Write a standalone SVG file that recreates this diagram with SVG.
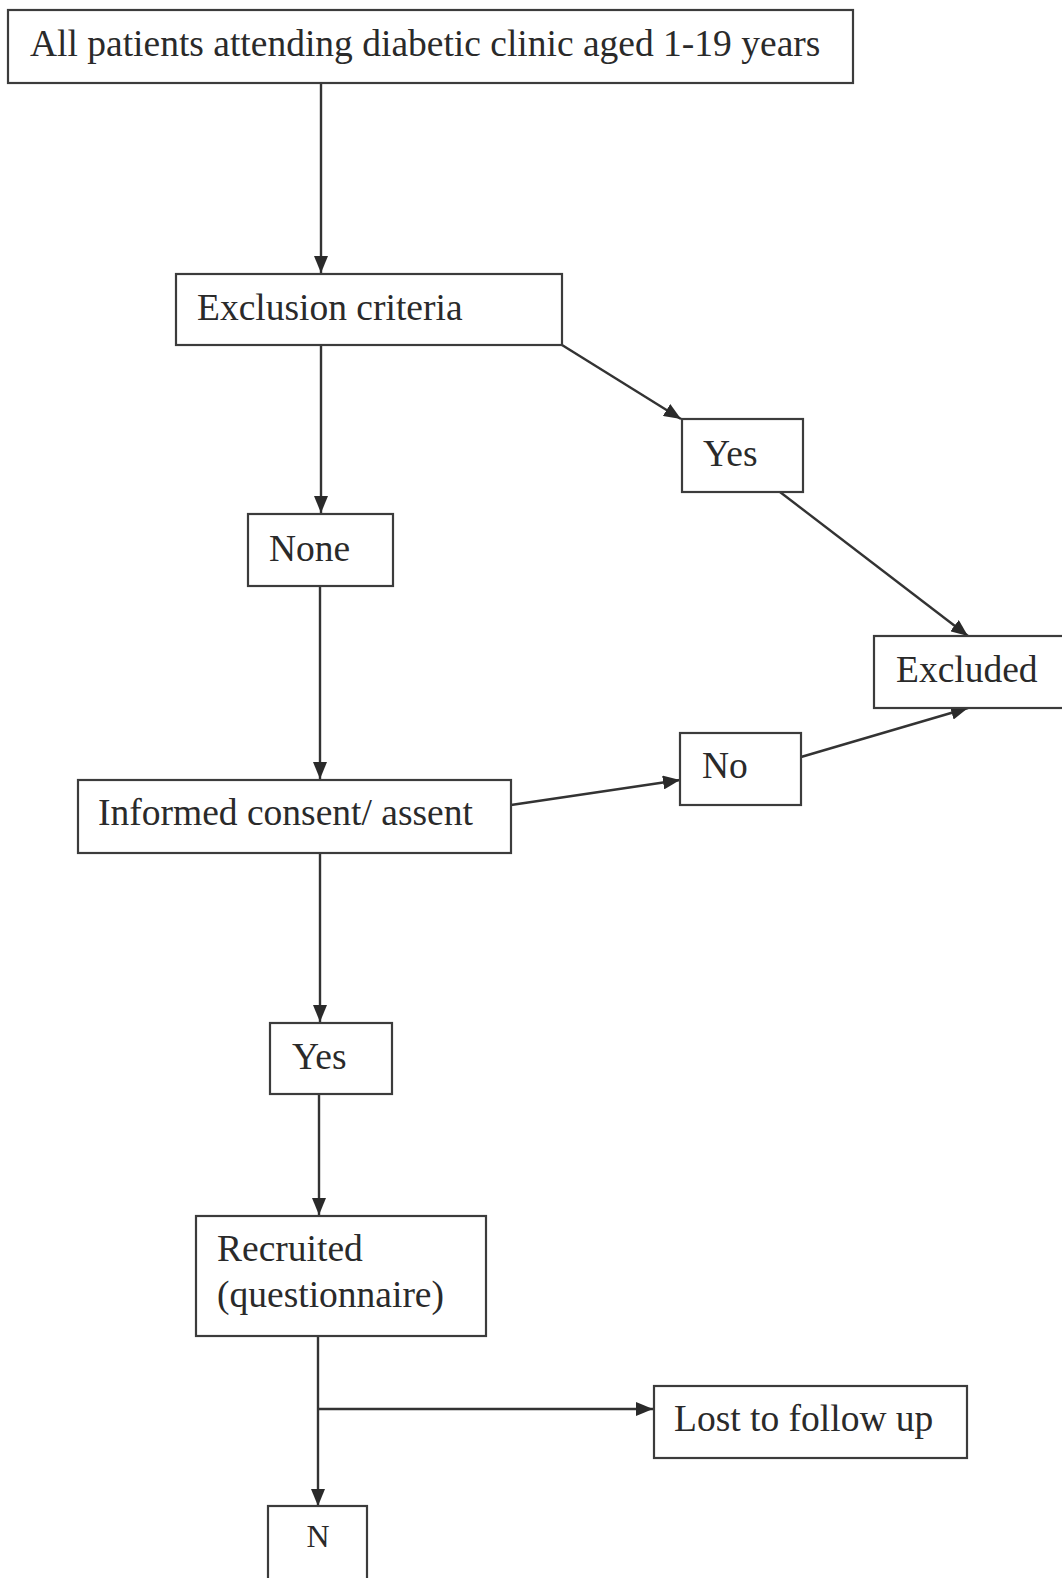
<svg xmlns="http://www.w3.org/2000/svg" width="1062" height="1578" viewBox="0 0 1062 1578">
<style>
.box{fill:#fff;stroke:#3c3c3c;stroke-width:2.2}
.t{font-family:"Liberation Serif","Times New Roman",serif;font-size:37.5px;fill:#2a2a2a}
.c{fill:none;stroke:#333;stroke-width:2.4}
</style>
<defs>
<marker id="ah" markerUnits="userSpaceOnUse" markerWidth="18" markerHeight="14" refX="17" refY="7" orient="auto">
<path d="M0,0 L17,7 L0,14 Z" fill="#2a2a2a"/>
</marker>
</defs>
<rect width="1062" height="1578" fill="#fff"/>
<g id="connectors">
<line class="c" x1="321" y1="83" x2="321" y2="273" marker-end="url(#ah)"/>
<line class="c" x1="321" y1="345" x2="321" y2="513" marker-end="url(#ah)"/>
<line class="c" x1="562" y1="345" x2="681" y2="419" marker-end="url(#ah)"/>
<line class="c" x1="780" y1="492" x2="968" y2="636" marker-end="url(#ah)"/>
<line class="c" x1="320" y1="586" x2="320" y2="779" marker-end="url(#ah)"/>
<line class="c" x1="511" y1="805" x2="680" y2="780" marker-end="url(#ah)"/>
<line class="c" x1="801" y1="757" x2="968" y2="708" marker-end="url(#ah)"/>
<line class="c" x1="320" y1="853" x2="320" y2="1022" marker-end="url(#ah)"/>
<line class="c" x1="319" y1="1094" x2="319" y2="1215" marker-end="url(#ah)"/>
<line class="c" x1="318" y1="1336" x2="318" y2="1506" marker-end="url(#ah)"/>
<line class="c" x1="318" y1="1409" x2="653" y2="1409" marker-end="url(#ah)"/>
</g>
<g id="n-all">
<rect class="box" x="8" y="10" width="845" height="73"/>
<text class="t" x="30" y="56">All patients attending diabetic clinic aged 1-19 years</text>
</g>
<g id="n-exclusion">
<rect class="box" x="176" y="274" width="386" height="71"/>
<text class="t" x="197" y="320">Exclusion criteria</text>
</g>
<g id="n-yes1">
<rect class="box" x="682" y="419" width="121" height="73"/>
<text class="t" x="703" y="466">Yes</text>
</g>
<g id="n-none">
<rect class="box" x="248" y="514" width="145" height="72"/>
<text class="t" x="269" y="561">None</text>
</g>
<g id="n-excluded">
<rect class="box" x="874" y="636" width="200" height="72"/>
<text class="t" x="896" y="682">Excluded</text>
</g>
<g id="n-no">
<rect class="box" x="680" y="733" width="121" height="72"/>
<text class="t" x="702" y="778">No</text>
</g>
<g id="n-consent">
<rect class="box" x="78" y="780" width="433" height="73"/>
<text class="t" x="98" y="825">Informed consent/ assent</text>
</g>
<g id="n-yes2">
<rect class="box" x="270" y="1023" width="122" height="71"/>
<text class="t" x="292" y="1069">Yes</text>
</g>
<g id="n-recruited">
<rect class="box" x="196" y="1216" width="290" height="120"/>
<text class="t" x="217" y="1261">Recruited</text>
<text class="t" x="217" y="1307">(questionnaire)</text>
</g>
<g id="n-lost">
<rect class="box" x="654" y="1386" width="313" height="72"/>
<text class="t" x="674" y="1431">Lost to follow up</text>
</g>
<g id="n-n">
<rect class="box" x="268" y="1506" width="99" height="90"/>
<text class="t" x="318" y="1547" text-anchor="middle" style="font-size:32px">N</text>
</g>
</svg>
